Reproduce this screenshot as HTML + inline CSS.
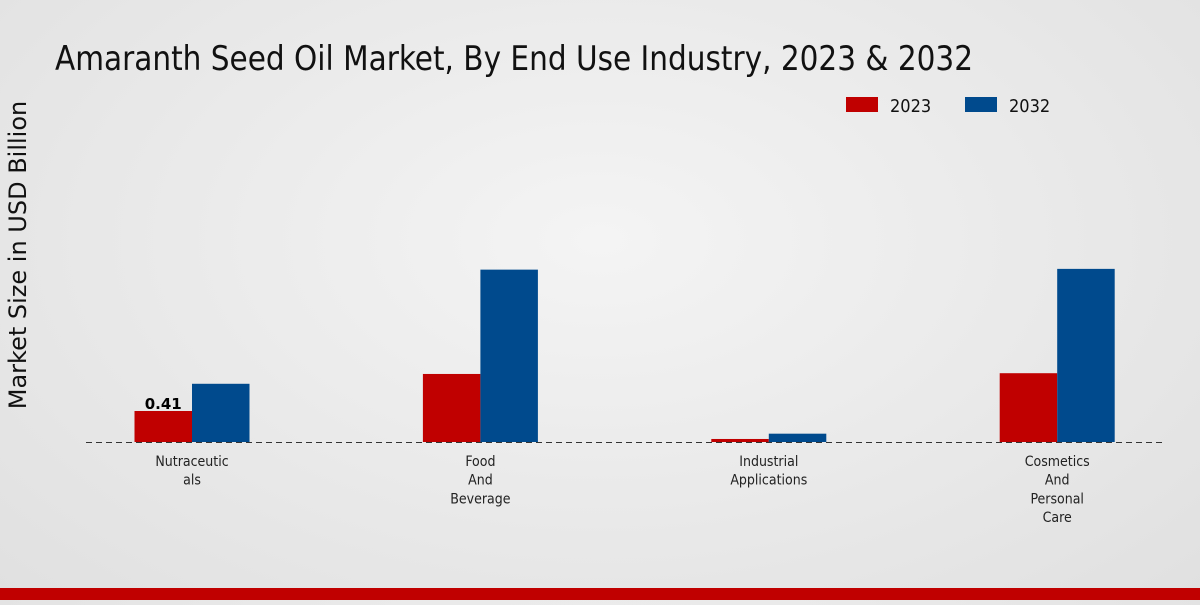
<!DOCTYPE html>
<html><head><meta charset="utf-8"><style>
body{margin:0;width:1200px;height:600px;overflow:hidden;background:radial-gradient(ellipse at 50% 40%,#f4f4f4 0%,#e8e8e8 60%,#e0e0e0 100%);font-family:"Liberation Sans","DejaVu Sans",sans-serif;}
</style></head><body>
<svg id="chart" width="1200" height="600" xmlns="http://www.w3.org/2000/svg">
<text x="55" y="70" font-size="34" font-family="DejaVu Sans Condensed, Liberation Sans Narrow, Liberation Sans, sans-serif" fill="#111" textLength="918" lengthAdjust="spacingAndGlyphs">Amaranth Seed Oil Market, By End Use Industry, 2023 &amp; 2032</text>
<text transform="translate(26,255) rotate(-90)" text-anchor="middle" font-size="24" font-family="DejaVu Sans, sans-serif" fill="#111">Market Size in USD Billion</text>
<g>
<rect x="846" y="97" width="32" height="15" fill="#c00000"/>
<text x="890" y="112" font-size="18" font-family="DejaVu Sans Condensed, Liberation Sans, sans-serif" fill="#111">2023</text>
<rect x="965" y="97" width="32" height="15" fill="#004a8d"/>
<text x="1009" y="112" font-size="18" font-family="DejaVu Sans Condensed, Liberation Sans, sans-serif" fill="#111">2032</text>
</g>
<g id="bars"></g>
<line x1="86" y1="442.5" x2="1165" y2="442.5" stroke="#333" stroke-dasharray="6,4" stroke-width="1"/>
<g id="xlabels"></g>
<rect x="0" y="588" width="1200" height="12" fill="#c00000"/>
</svg>
<script>
const categories=[["Nutraceutic","als"],["Food","And","Beverage"],["Industrial","Applications"],["Cosmetics","And","Personal","Care"]];
const values2023=[0.41,0.90,0.04,0.91];
const values2032=[0.77,2.28,0.11,2.29];
const valueLabels=["0.41","","",""];
const NS="http://www.w3.org/2000/svg";
const baseY=442, pxPerUnit=75.6, x0=192, step=288.4, bw=57.5;
const yScale=v=>baseY-v*pxPerUnit;
const xCenter=i=>x0+i*step;
const bars=document.getElementById('bars'), xl=document.getElementById('xlabels');
function rect(x,v,color,name){const r=document.createElementNS(NS,'rect');


r.setAttribute('x',x);r.setAttribute('y',yScale(v));r.setAttribute('width',bw);r.setAttribute('height',baseY-yScale(v));r.setAttribute('fill',color);bars.appendChild(r);}
categories.forEach((c,i)=>{
 const cx=xCenter(i);
 rect(cx-bw,values2023[i],'#c00000','bar-2023-'+i);
 rect(cx,values2032[i],'#004a8d','bar-2032-'+i);
 if(valueLabels[i]){const t=document.createElementNS(NS,'text');
 
 
 t.setAttribute('x',cx-bw/2);t.setAttribute('y',yScale(values2023[i])-2);t.setAttribute('text-anchor','middle');t.setAttribute('font-size','15');t.setAttribute('font-weight','bold');t.setAttribute('font-family','DejaVu Sans, sans-serif');t.textContent=valueLabels[i];bars.appendChild(t);}
 c.forEach((line,j)=>{const t=document.createElementNS(NS,'text');
 
 
 t.setAttribute('x',cx);t.setAttribute('y',466+j*18.7);t.setAttribute('text-anchor','middle');t.setAttribute('font-size','14');t.setAttribute('font-family','DejaVu Sans Condensed, Liberation Sans Narrow, Liberation Sans, sans-serif');t.setAttribute('fill','#222');t.textContent=line;xl.appendChild(t);});
});
</script>
</body></html>
